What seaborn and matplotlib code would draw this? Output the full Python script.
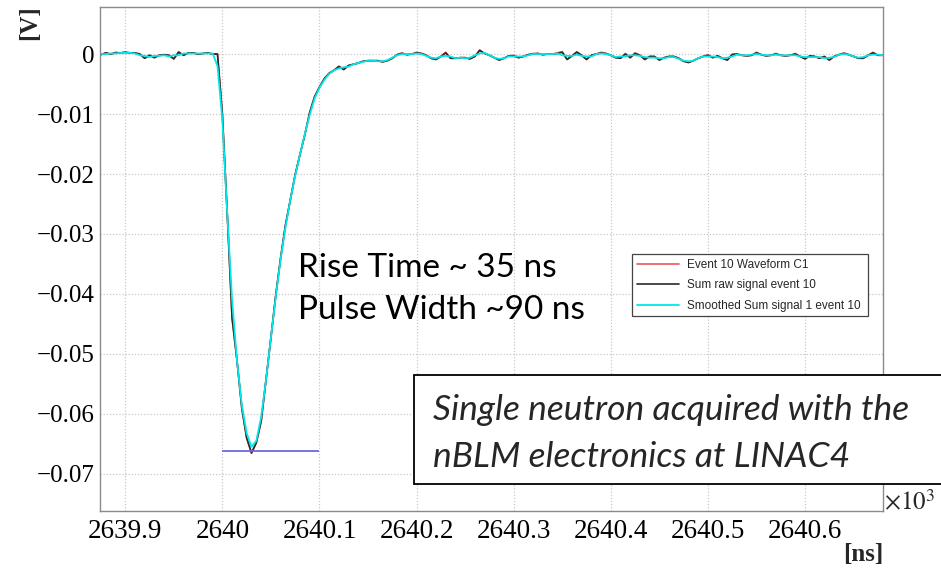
import numpy as np
import pandas as pd
import matplotlib
matplotlib.use("Agg")
import matplotlib.pyplot as plt
import seaborn as sns
from matplotlib.ticker import FixedLocator, MultipleLocator, FuncFormatter
from matplotlib.patches import Rectangle

# ---------------- data ----------------
# sample grid (ns, relative to 2640 x10^3 ns)
T_START_NS, T_STOP_NS, T_STEP_NS = -125, 680, 5
TIME_REF = 2640.0  # x10^3 ns

sum_raw_signal = [
    -0.0001, 0.0002, 0.0000, 0.0002, 0.0002, 0.0003, 0.0002, 0.0002, 0.0000, -0.0007,
    -0.0002, -0.0006, -0.0002, -0.0001, -0.0002, -0.0008, 0.0003, -0.0002, 0.0002, 0.0002,
    0.0000, 0.0001, 0.0002, 0.0000, 0.0000,
    -0.0100, -0.0265, -0.0440, -0.0510, -0.0590, -0.0640, -0.0665, -0.0648, -0.0612, -0.0543,
    -0.0473, -0.0402, -0.0340, -0.0285, -0.0243, -0.0201, -0.0167, -0.0134, -0.0097, -0.0071,
    -0.0055, -0.0041, -0.0032, -0.0027, -0.0021, -0.0026, -0.0019, -0.0017, -0.0015, -0.0012,
    -0.0011, -0.0011, -0.0011, -0.0013, -0.0011, -0.0007, -0.0001,
    0.0001, -0.0001, 0.0000, 0.0002, 0.0001, -0.0002, -0.0007, -0.0009, -0.0004, 0.0002,
    -0.0007, -0.0007, -0.0006, -0.0006, -0.0008, -0.0004, 0.0006, 0.0001, -0.0002, -0.0006,
    -0.0010, -0.0007, -0.0003, -0.0003, -0.0006, -0.0004, -0.0001, 0.0000, 0.0001, -0.0001,
    0.0000, 0.0000, 0.0001, 0.0003, -0.0009, -0.0003, 0.0003, -0.0002, -0.0009, -0.0002,
    0.0000, 0.0002, 0.0001, -0.0002, -0.0006, -0.0007, 0.0000, -0.0006, 0.0001, -0.0002,
    -0.0009, -0.0004, -0.0004, -0.0010, -0.0006, -0.0004, -0.0004, -0.0007, -0.0012, -0.0014,
    -0.0011, -0.0007, -0.0004, -0.0002, -0.0006, -0.0003, -0.0007, -0.0010, -0.0001, 0.0000,
    -0.0002, -0.0003, -0.0002, 0.0002, -0.0001, -0.0003, -0.0002, 0.0000, -0.0002, -0.0003,
    -0.0002, 0.0000, -0.0004, -0.0008, -0.0003, -0.0004, -0.0007, -0.0004, -0.0010, -0.0004,
    -0.0001, 0.0001, -0.0001, -0.0004, -0.0007, -0.0007, -0.0002, 0.0002, -0.0002, -0.0002,
]

waveform_c1 = [
    -0.0001, 0.0002, 0.0000, 0.0003, 0.0002, 0.0003, 0.0002, 0.0002, 0.0000, -0.0007,
    -0.0002, -0.0006, -0.0002, -0.0001, -0.0002, -0.0008, 0.0004, -0.0002, 0.0002, 0.0002,
    0.0000, 0.0001, 0.0002, 0.0000, 0.0000,
    -0.0100, -0.0265, -0.0440, -0.0510, -0.0590, -0.0640, -0.0666, -0.0648, -0.0612, -0.0543,
    -0.0473, -0.0402, -0.0340, -0.0285, -0.0243, -0.0201, -0.0167, -0.0134, -0.0097, -0.0071,
    -0.0055, -0.0041, -0.0032, -0.0027, -0.0020, -0.0025, -0.0019, -0.0017, -0.0015, -0.0012,
    -0.0011, -0.0011, -0.0011, -0.0013, -0.0011, -0.0007, -0.0001,
    0.0002, -0.0001, 0.0000, 0.0003, 0.0001, -0.0002, -0.0007, -0.0009, -0.0004, 0.0003,
    -0.0007, -0.0007, -0.0006, -0.0006, -0.0008, -0.0004, 0.0007, 0.0001, -0.0002, -0.0006,
    -0.0010, -0.0007, -0.0003, -0.0002, -0.0006, -0.0004, -0.0001, 0.0001, 0.0001, -0.0001,
    0.0000, 0.0000, 0.0002, 0.0004, -0.0009, -0.0003, 0.0004, -0.0002, -0.0009, -0.0002,
    0.0000, 0.0003, 0.0001, -0.0002, -0.0006, -0.0007, 0.0001, -0.0006, 0.0002, -0.0002,
    -0.0009, -0.0004, -0.0004, -0.0010, -0.0006, -0.0004, -0.0004, -0.0007, -0.0012, -0.0014,
    -0.0011, -0.0007, -0.0004, -0.0001, -0.0006, -0.0003, -0.0007, -0.0010, 0.0000, 0.0000,
    -0.0002, -0.0003, -0.0002, 0.0003, -0.0001, -0.0003, -0.0002, 0.0001, -0.0002, -0.0003,
    -0.0002, 0.0001, -0.0004, -0.0008, -0.0003, -0.0004, -0.0007, -0.0004, -0.0010, -0.0004,
    -0.0001, 0.0002, -0.0001, -0.0004, -0.0007, -0.0007, -0.0002, 0.0003, -0.0002, -0.0002,
]

smoothed_sum_signal = [
    0.0000, 0.0000, 0.0001, 0.0001, 0.0002, 0.0002, 0.0002, 0.0001, -0.0002, -0.0003,
    -0.0005, -0.0003, -0.0003, -0.0002, -0.0004, -0.0002, -0.0002, 0.0001, 0.0001, 0.0001,
    0.0001, 0.0001, 0.0001, 0.0001, -0.0020,
    -0.0110, -0.0265, -0.0410, -0.0510, -0.0585, -0.0632, -0.0655, -0.0645, -0.0605, -0.0543,
    -0.0473, -0.0405, -0.0342, -0.0289, -0.0243, -0.0203, -0.0167, -0.0133, -0.0101, -0.0074,
    -0.0056, -0.0043, -0.0033, -0.0027, -0.0024, -0.0022, -0.0021, -0.0017, -0.0015, -0.0013,
    -0.0011, -0.0011, -0.0012, -0.0012, -0.0010, -0.0006, -0.0002,
    0.0000, 0.0000, 0.0000, 0.0001, 0.0000, -0.0003, -0.0006, -0.0007, -0.0004, -0.0003,
    -0.0004, -0.0007, -0.0006, -0.0007, -0.0006, -0.0002, 0.0001, 0.0002, -0.0002, -0.0006,
    -0.0008, -0.0007, -0.0004, -0.0004, -0.0004, -0.0004, -0.0002, 0.0000, 0.0000, 0.0000,
    0.0000, 0.0000, 0.0001, -0.0002, -0.0003, -0.0003, -0.0001, -0.0003, -0.0004, -0.0004,
    0.0000, 0.0001, 0.0000, -0.0002, -0.0005, -0.0004, -0.0004, -0.0002, -0.0002, -0.0003,
    -0.0005, -0.0006, -0.0006, -0.0007, -0.0007, -0.0005, -0.0005, -0.0008, -0.0011, -0.0012,
    -0.0011, -0.0007, -0.0004, -0.0004, -0.0004, -0.0005, -0.0007, -0.0006, -0.0004, -0.0001,
    -0.0002, -0.0002, -0.0001, 0.0000, -0.0001, -0.0002, -0.0002, -0.0001, -0.0002, -0.0002,
    -0.0002, -0.0002, -0.0004, -0.0005, -0.0005, -0.0005, -0.0005, -0.0007, -0.0006, -0.0005,
    -0.0001, 0.0000, -0.0001, -0.0004, -0.0006, -0.0005, -0.0002, -0.0001, -0.0001, -0.0002,
]

series_labels = ["Event 10 Waveform C1", "Sum raw signal event 10",
                 "Smoothed Sum signal 1 event 10"]
series_colors = ["#ee5555", "#2a2a2a", "#00e8e8"]

peak_marker_level = -0.0662          # V
peak_marker_span = [2640.0, 2640.1]  # x10^3 ns

x_major_ticks = [2639.9, 2640.0, 2640.1, 2640.2, 2640.3, 2640.4, 2640.5, 2640.6]
y_major_ticks = [0.0, -0.01, -0.02, -0.03, -0.04, -0.05, -0.06, -0.07]
x_limits = (2639.874, 2640.680)
y_limits = (-0.0762, 0.0078)

# ---------------- figure ----------------
sns.set_theme(style="white")
plt.rcParams["font.family"] = ["Liberation Serif", "DejaVu Serif"]

W, H = 941, 570
fig = plt.figure(figsize=(W / 100, H / 100), dpi=100)
fig.patch.set_facecolor("white")

def fx(px):
    return px / W

def fy(py):
    return 1 - py / H

ax = fig.add_axes([fx(100), fy(511), fx(882.7) - fx(100), fy(7.3) - fy(511)])
ax.set_facecolor("white")

t_ns = np.arange(T_START_NS, T_STOP_NS + 1, T_STEP_NS)
x_vals = TIME_REF + t_ns / 1000.0
df = pd.DataFrame({
    "time": np.concatenate([x_vals] * 3),
    "value": np.concatenate([waveform_c1, sum_raw_signal, smoothed_sum_signal]),
    "series": np.repeat(series_labels, len(x_vals)),
})

widths = [1.2, 1.2, 1.3]
for lab, col, lw in zip(series_labels, series_colors, widths):
    sns.lineplot(data=df[df["series"] == lab], x="time", y="value", color=col,
                 linewidth=lw, ax=ax, label=lab, estimator=None, sort=False,
                 legend=False)

ax.hlines(peak_marker_level, peak_marker_span[0], peak_marker_span[1],
          colors="#6a6ae0", linewidth=1.3, zorder=5)

ax.set_xlim(*x_limits)
ax.set_ylim(*y_limits)
ax.set_xlabel("")
ax.set_ylabel("")

ax.xaxis.set_major_locator(FixedLocator(x_major_ticks))
ax.yaxis.set_major_locator(FixedLocator(y_major_ticks))
ax.xaxis.set_minor_locator(MultipleLocator(0.01))
ax.yaxis.set_minor_locator(MultipleLocator(0.002))
ax.xaxis.set_major_formatter(FuncFormatter(lambda v, p: f"{v:g}"))
ax.yaxis.set_major_formatter(
    FuncFormatter(lambda v, p: "0" if abs(v) < 1e-12 else f"{v:.2f}".replace("-", "\u2212")))

ax.grid(True, which="major", linestyle=(0, (1, 1.5)), color="#c8c8c8", linewidth=0.9)
ax.set_axisbelow(True)
for s in ax.spines.values():
    s.set_color("#8a8a8a")
    s.set_linewidth(1.0)

ax.tick_params(axis="both", which="both", direction="in", colors="#666666",
               labelcolor="black", top=False, right=False, width=0.9)
ax.tick_params(axis="x", which="major", length=10, pad=6, labelsize=19.5)
ax.tick_params(axis="x", which="minor", length=5)
ax.tick_params(axis="y", which="major", length=18.7, pad=4, labelsize=18)
ax.tick_params(axis="y", which="minor", length=9.4)

# axis titles (ROOT style)
fig.text(fx(30), fy(23), "[V]", rotation=90, ha="center", va="center",
         fontsize=18, fontweight="bold")
fig.text(fx(863), fy(555), "[ns]", ha="center", va="center",
         fontsize=18, fontweight="bold")
fig.text(fx(884), fy(503), r"$\times10^{3}$", ha="left", va="center",
         fontsize=18, math_fontfamily="stix")

# legend
handles, labels = ax.get_legend_handles_labels()
leg = ax.legend(handles, labels, loc="upper left",
                bbox_to_anchor=(fx(632), fy(313), fx(868) - fx(632), fy(254) - fy(313)),
                bbox_transform=fig.transFigure, mode="expand", borderaxespad=0,
                prop={"family": "Liberation Sans", "size": 8.5}, frameon=True,
                fancybox=False, edgecolor="#444444", framealpha=1,
                handlelength=3.6, handletextpad=0.7, labelspacing=0.72,
                borderpad=0.4)
leg.get_frame().set_linewidth(0.9)

# annotations
fig.text(fx(298), fy(268), "Rise Time ~ 35 ns", ha="left", va="center",
         fontsize=24, family=["Lato", "DejaVu Sans"], color="black")
fig.text(fx(298), fy(310), "Pulse Width ~90 ns", ha="left", va="center",
         fontsize=24, family=["Lato", "DejaVu Sans"], color="black")

box = Rectangle((fx(414), fy(484)), fx(960) - fx(414), fy(375) - fy(484),
                transform=fig.transFigure, facecolor="white", edgecolor="black",
                linewidth=1.3, zorder=10)
fig.patches.append(box)
fig.text(fx(433), fy(410), "Single neutron acquired with the", ha="left",
         va="center", fontsize=25.5, style="italic",
         family=["Lato", "DejaVu Sans"], zorder=11)
fig.text(fx(433), fy(457), "nBLM electronics at LINAC4", ha="left",
         va="center", fontsize=25.5, style="italic",
         family=["Lato", "DejaVu Sans"], zorder=11)

fig.savefig("out.png", dpi=100, facecolor="white")
